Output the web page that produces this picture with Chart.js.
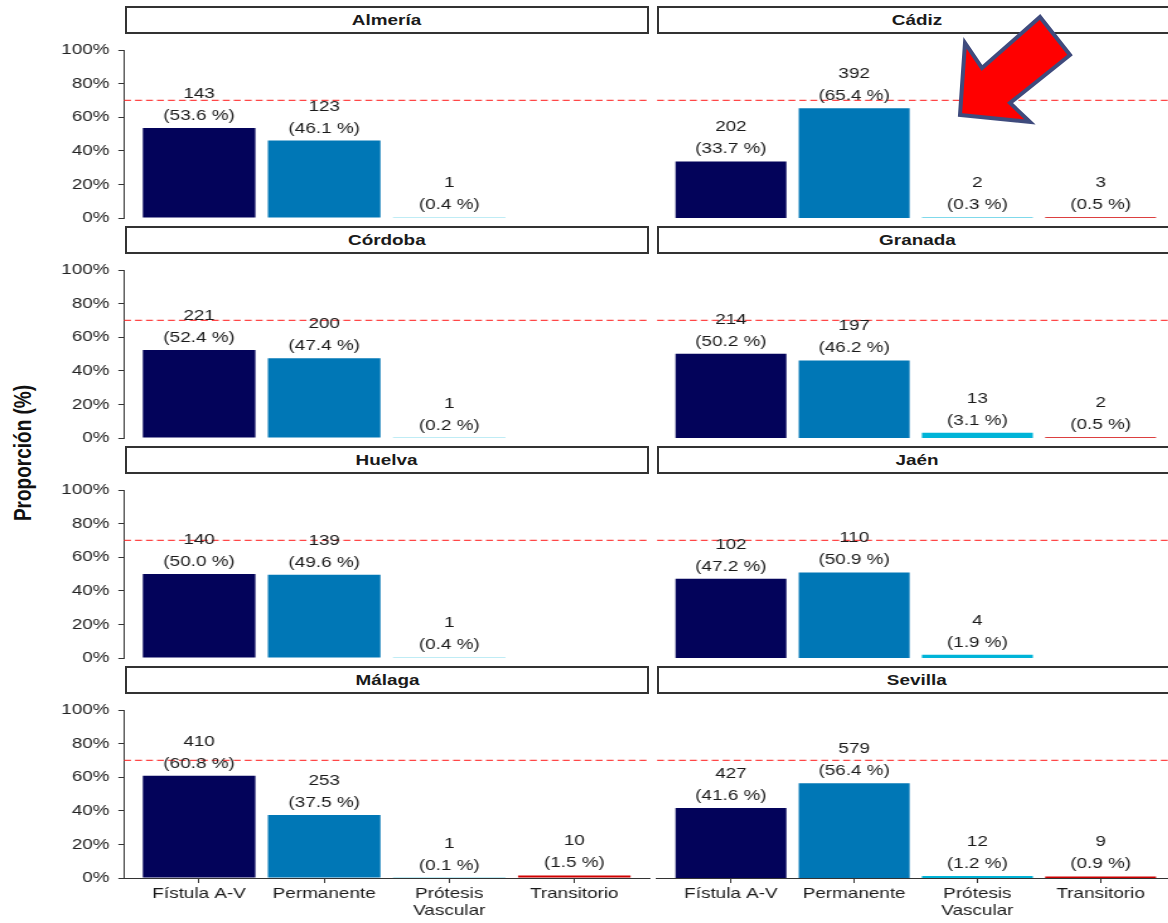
<!DOCTYPE html>
<html lang="es">
<head>
<meta charset="utf-8">
<script src="https://cdn.jsdelivr.net/npm/chart.js@4.4.1/dist/chart.umd.min.js"></script>
<style>
  html, body { margin: 0; padding: 0; background: #fff; }
  #page { position: relative; width: 1168px; height: 923px; overflow: hidden;
          font-family: "Liberation Sans", Arial, sans-serif; }
  .strip { position: absolute; height: 28px; box-sizing: border-box; border: 2px solid #333;
           background: #fff; font-weight: bold; font-size: 15px; color: #1a1a1a;
           text-align: center; line-height: 24px; }
  .strip span { display: inline-block; transform: scaleX(1.26); }
  .panel { position: absolute; }
  #ytitle { position: absolute; left: -77px; top: 441px; width: 200px; height: 24px; line-height: 24px;
            text-align: center; transform: rotate(-90deg) scaleY(1.26); font-weight: bold; font-size: 19px;
            color: #111; }
  #arrow { position: absolute; left: 0; top: 0; pointer-events: none; }
</style>
</head>
<body>
<div id="page">
  <div id="ytitle">Proporción (%)</div>
</div>
<script>
const CATEGORIES = ['Fístula A-V', 'Permanente', 'Prótesis Vascular', 'Transitorio'];
const X_TICK_LABELS = ['Fístula A-V', 'Permanente', ['Prótesis', 'Vascular'], 'Transitorio'];
const PROVINCES = ['Almería', 'Cádiz', 'Córdoba', 'Granada', 'Huelva', 'Jaén', 'Málaga', 'Sevilla'];
const Y_TICKS = [0, 20, 40, 60, 80, 100];
const REFERENCE = 70;

// counts and percentages per province (Fístula, Permanente, Prótesis, Transitorio)
const almeriaN = [143, 123, 1, null];
const almeriaPct = [53.6, 46.1, 0.4, null];
const cadizN = [202, 392, 2, 3];
const cadizPct = [33.7, 65.4, 0.3, 0.5];
const cordobaN = [221, 200, 1, null];
const cordobaPct = [52.4, 47.4, 0.2, null];
const granadaN = [214, 197, 13, 2];
const granadaPct = [50.2, 46.2, 3.1, 0.5];
const huelvaN = [140, 139, 1, null];
const huelvaPct = [50.0, 49.6, 0.4, null];
const jaenN = [102, 110, 4, null];
const jaenPct = [47.2, 50.9, 1.9, null];
const malagaN = [410, 253, 1, 10];
const malagaPct = [60.8, 37.5, 0.1, 1.5];
const sevillaN = [427, 579, 12, 9];
const sevillaPct = [41.6, 56.4, 1.2, 0.9];

const COUNTS = [almeriaN, cadizN, cordobaN, granadaN, huelvaN, jaenN, malagaN, sevillaN];
const PCTS = [almeriaPct, cadizPct, cordobaPct, granadaPct, huelvaPct, jaenPct, malagaPct, sevillaPct];

const COLORS = ['#03035a', '#0077b6', '#00b4d8', '#d00000'];
const FONT = '"Liberation Sans", Arial, sans-serif';
const SX = 1.26; // the original picture is stretched sideways

Chart.defaults.font.family = FONT;

// reference line + two-line labels above the bars
const barLabels = {
  id: 'barLabels',
  afterDatasetsDraw(chart, args, opts) {
    const { ctx, chartArea, scales } = chart;
    const yRef = scales.y.getPixelForValue(REFERENCE);
    ctx.save();
    ctx.strokeStyle = 'rgba(255,60,60,0.95)';
    ctx.lineWidth = 1.2;
    ctx.setLineDash([5.5, 3.2]);
    ctx.beginPath();
    ctx.moveTo(chartArea.left, yRef);
    ctx.lineTo(chartArea.right, yRef);
    ctx.stroke();
    ctx.setLineDash([]);
    ctx.font = '15px ' + FONT;
    ctx.fillStyle = '#1a1a1a';
    ctx.textAlign = 'center';
    ctx.textBaseline = 'alphabetic';
    chart.getDatasetMeta(0).data.forEach((bar, i) => {
      const n = opts.counts[i];
      if (n == null) return;
      ctx.fillText(String(n), bar.x, bar.y - 30);
      ctx.fillText('(' + opts.pct[i].toFixed(1) + ' %)', bar.x, bar.y - 8);
    });
    ctx.restore();
  }
};

const page = document.getElementById('page');

PROVINCES.forEach((name, p) => {
  const row = Math.floor(p / 2);
  const col = p % 2;
  const bottom = row === 3;
  const plotTop = 50 + row * 220;

  const strip = document.createElement('div');
  strip.className = 'strip';
  const span = document.createElement('span');
  span.textContent = name;
  strip.appendChild(span);
  strip.style.top = (6 + row * 220) + 'px';
  strip.style.left = (col === 0 ? 125 : 657) + 'px';
  strip.style.width = (col === 0 ? 524 : 520) + 'px';
  page.appendChild(strip);

  // canvas is drawn narrow and shown stretched by SX
  const left = col === 0 ? 0 : 652;
  const w = col === 0 ? 518 : 421;
  const h = 16 + 168 + (bottom ? 48 : 16);
  const areaLeft = (col === 0 ? 124 : 657) - left;
  const areaRight = (col === 0 ? 649 : 1175) - left;
  const canvas = document.createElement('canvas');
  canvas.className = 'panel';
  canvas.width = w;
  canvas.height = h;
  canvas.style.left = left + 'px';
  canvas.style.top = (plotTop - 16) + 'px';
  canvas.style.width = (w * SX) + 'px';
  canvas.style.height = h + 'px';
  page.appendChild(canvas);

  const points = CATEGORIES.map((c, i) => ({ x: i, y: PCTS[p][i] }));

  new Chart(canvas, {
    type: 'bar',
    data: {
      datasets: [{
        data: points,
        backgroundColor: COLORS,
        borderWidth: 0,
        barPercentage: 0.9,
        categoryPercentage: 1.0
      }]
    },
    options: {
      responsive: false,
      animation: false,
      devicePixelRatio: 1,
      layout: {
        padding: {
          top: 16,
          bottom: bottom ? 0 : 16,
          left: col === 0 ? 0 : areaLeft / SX,
          right: w - areaRight / SX
        }
      },
      plugins: {
        legend: { display: false },
        tooltip: { enabled: false },
        barLabels: { counts: COUNTS[p], pct: PCTS[p] }
      },
      scales: {
        x: {
          type: 'linear',
          min: -0.6,
          max: 3.6,
          offset: false,
          display: bottom,
          afterBuildTicks: (s) => { s.ticks = CATEGORIES.map((c, i) => ({ value: i })); },
          afterFit: (s) => { if (bottom) s.height = 48; },
          border: { display: true, color: '#333', width: 1 },
          grid: { offset: false, drawOnChartArea: false, drawTicks: true, tickLength: 5, color: '#333' },
          ticks: {
            callback: (v) => X_TICK_LABELS[v],
            color: '#1a1a1a',
            font: { size: 15, lineHeight: 1.1 },
            padding: 3,
            maxRotation: 0,
            autoSkip: false
          }
        },
        y: {
          min: 0,
          max: 100,
          display: col === 0,
          afterBuildTicks: (s) => { s.ticks = Y_TICKS.map(v => ({ value: v })); },
          afterFit: (s) => { if (col === 0) s.width = areaLeft / SX; },
          border: { display: true, color: '#333', width: 1 },
          grid: { drawOnChartArea: false, drawTicks: true, tickLength: 4.5, color: '#333' },
          ticks: {
            callback: (v) => v + '%',
            color: '#222',
            font: { size: 15 },
            padding: 7
          }
        }
      }
    },
    plugins: [barLabels]
  });
});

// red annotation arrow pointing at Cádiz
const svgNS = 'http://www.w3.org/2000/svg';
const svg = document.createElementNS(svgNS, 'svg');
svg.setAttribute('id', 'arrow');
svg.setAttribute('width', '1168');
svg.setAttribute('height', '923');
const poly = document.createElementNS(svgNS, 'polygon');
poly.setAttribute('points', '960,115 965,43 982,68 1040,17 1070,55 1010,103 1030,122');
poly.setAttribute('fill', '#ff0000');
poly.setAttribute('stroke', '#3f4b7d');
poly.setAttribute('stroke-width', '4');
poly.setAttribute('stroke-linejoin', 'miter');
svg.appendChild(poly);
page.appendChild(svg);
</script>
</body>
</html>
